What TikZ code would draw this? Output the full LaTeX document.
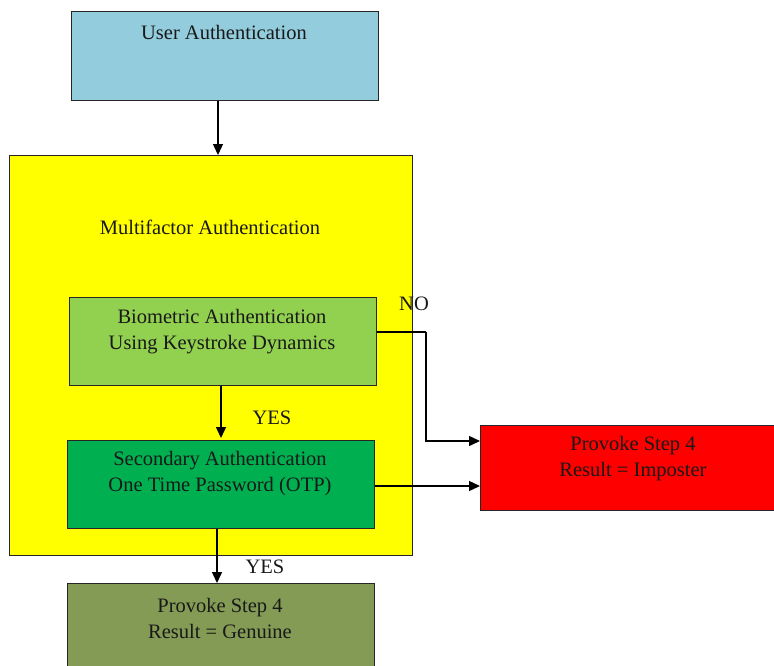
\documentclass[tikz,border=0pt]{standalone}
\usepackage{fontspec}
\setmainfont{Liberation Serif}
\usetikzlibrary{arrows.meta}

\definecolor{uablue}{HTML}{93CDDD}
\definecolor{mfyellow}{HTML}{FFFF00}
\definecolor{biogreen}{HTML}{92D050}
\definecolor{otpgreen}{HTML}{00B050}
\definecolor{impred}{HTML}{FF0000}
\definecolor{genolive}{HTML}{849B55}
\definecolor{edge}{HTML}{262626}

\tikzset{
  box/.style={draw=edge, line width=0.9pt, rectangle, anchor=north west, inner sep=0pt},
  txt/.style={font=\fontsize{20.5}{26}\selectfont, align=center, inner sep=0pt, text=black!90},
  arr/.style={draw=black, line width=1.4pt, -{Triangle[length=11pt,width=10pt]}},
  link/.style={draw=black, line width=1.4pt},
}

\begin{document}
\begin{tikzpicture}[x=1pt,y=-1pt]
  \useasboundingbox (0,0) rectangle (774,665);
  \clip (0,0) rectangle (774,665);

  % boxes
  \node[box, fill=uablue,   minimum width=307pt, minimum height=89pt]  (ua)  at (71,11)  {};
  \node[box, fill=mfyellow, minimum width=403pt, minimum height=400pt] (mfa) at (9,155)  {};
  \node[box, fill=biogreen, minimum width=307pt, minimum height=88pt]  (bio) at (69,297) {};
  \node[box, fill=otpgreen, minimum width=307pt, minimum height=88pt]  (otp) at (67,440) {};
  \node[box, fill=impred,   minimum width=306pt, minimum height=85pt]  (imp) at (480,425) {};
  \node[box, fill=genolive, minimum width=307pt, minimum height=100pt] (gen) at (67,583) {};

  % box texts
  \node[txt] (uat)  at (224,32)  {User Authentication};
  \node[txt] (mfat) at (210,227) {Multifactor Authentication};
  \node[txt] (biot) at (222,331.5) {Biometric Authentication\\Using Keystroke Dynamics};
  \node[txt] (otpt) at (220,474) {Secondary Authentication\\One Time Password (OTP)};
  \node[txt] (impt) at (633,459) {Provoke Step 4\\Result = Imposter};
  \node[txt] (gent) at (220,618) {Provoke Step 4\\Result = Genuine};

  % branch labels
  \node[txt] (no)   at (414,304) {NO};
  \node[txt] (yes1) at (272,418) {YES};
  \node[txt] (yes2) at (265,567) {YES};

  % guide coordinates for the arrow columns and the NO route
  \coordinate (c1) at (218,0);
  \coordinate (c2) at (221,0);
  \coordinate (c3) at (217,0);
  \coordinate (nx) at (426,332);
  \coordinate (ny) at (426,441);
  \coordinate (r1) at (0,486);

  % connectors
  \draw[arr] (ua.south -| c1) -- (mfa.north -| c1);
  \draw[arr] (bio.south -| c2) -- ([yshift=2pt]otp.north -| c2);
  \draw[arr] (otp.south -| c3) -- (gen.north -| c3);
  \draw[arr] (otp.east |- r1) -- (imp.west |- r1);
  \draw[link] (bio.east |- nx) -- (nx);
  \draw[arr] (nx) -- (ny) -- (imp.west |- ny);
\end{tikzpicture}
\end{document}
